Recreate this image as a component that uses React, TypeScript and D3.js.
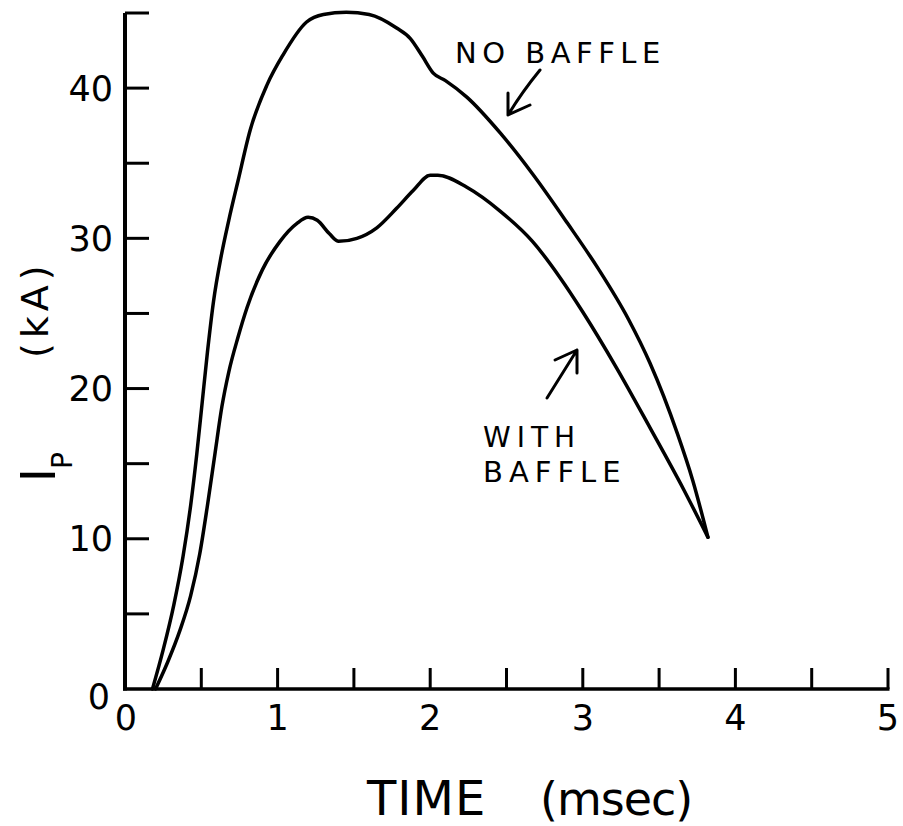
import React from "react";
import * as d3 from "d3";

// ---- data ----
const noBaffleTime = [0.18, 0.25, 0.32, 0.38, 0.43, 0.47, 0.505, 0.54, 0.58, 0.63, 0.68, 0.74, 0.82, 0.93, 1.035, 1.19, 1.3, 1.45, 1.6, 1.78, 1.87, 1.95, 2.02, 2.1, 2.24, 2.46, 2.67, 2.9, 3.1, 3.3, 3.44, 3.62, 3.72, 3.82];
const noBaffleCurrent = [0, 2.6, 5.6, 8.8, 12.2, 15.6, 19.0, 22.4, 25.8, 28.8, 31.2, 33.8, 37.2, 40.2, 42.2, 44.4, 44.9, 45.05, 44.9, 44.0, 43.3, 42.1, 41.0, 40.5, 39.4, 37.0, 34.3, 31.0, 28.0, 24.6, 21.7, 17.0, 13.9, 10.1];

const withBaffleTime = [0.2, 0.28, 0.36, 0.43, 0.49, 0.54, 0.59, 0.635, 0.68, 0.74, 0.8, 0.9, 1.016, 1.127, 1.2, 1.26, 1.34, 1.4, 1.52, 1.65, 1.78, 1.89, 2.0, 2.05, 2.24, 2.46, 2.67, 2.85, 3.0, 3.22, 3.44, 3.66, 3.82];
const withBaffleCurrent = [0, 1.8, 3.9, 6.2, 9.0, 12.2, 15.7, 18.8, 21.1, 23.4, 25.4, 27.9, 29.8, 31.0, 31.4, 31.2, 30.3, 29.8, 30.0, 30.7, 32.0, 33.2, 34.2, 34.2, 33.4, 31.8, 29.8, 27.4, 25.1, 21.4, 17.4, 13.3, 10.1];

const xMajorTicks = [0, 1, 2, 3, 4, 5];
const xMinorTicks = [0.5, 1, 1.5, 2, 2.5, 3, 3.5, 4, 4.5, 5];
const yMajorTicks = [0, 10, 20, 30, 40];
const yMinorTicks = [5, 10, 15, 20, 25, 30, 35, 40, 45];

const xTitle = "TIME";
const xUnit = "(msec)";
const yTitleMain = "I";
const yTitleSub = "P";
const yUnit = "(kA)";
const labelNoBaffle = "NO BAFFLE";
const labelWith1 = "WITH";
const labelWith2 = "BAFFLE";

const FONT = "'DejaVu Sans', sans-serif";

export default function App() {
  const W = 903;
  const H = 826;
  const x = d3.scaleLinear().domain([0, 5]).range([125, 888]);
  const y = d3.scaleLinear().domain([0, 45]).range([689, 13]);

  const line = d3
    .line<[number, number]>()
    .x((d) => x(d[0]))
    .y((d) => y(d[1]))
    .curve(d3.curveMonotoneX);

  const noB = noBaffleTime.map((t, i) => [t, noBaffleCurrent[i]] as [number, number]);
  const withB = withBaffleTime.map((t, i) => [t, withBaffleCurrent[i]] as [number, number]);

  const stroke = "#000";

  return (
    <svg
      width={W}
      height={H}
      viewBox={`0 0 ${W} ${H}`}
      style={{ position: "absolute", left: 0, top: 0, background: "#fff" }}
    >
      <rect x={0} y={0} width={W} height={H} fill="#fff" />
      {/* axes */}
      <line x1={x(0)} x2={x(0)} y1={y(0) + 1.5} y2={y(45)} stroke={stroke} strokeWidth={4} />
      <line x1={x(0) - 2} x2={x(5) + 1.5} y1={y(0)} y2={y(0)} stroke={stroke} strokeWidth={3.5} />
      {yMinorTicks.map((v) => (
        <line key={"yt" + v} x1={x(0)} x2={x(0) + 24} y1={y(v)} y2={y(v)} stroke={stroke} strokeWidth={3} />
      ))}
      {xMinorTicks.map((v) => (
        <line key={"xt" + v} x1={x(v)} x2={x(v)} y1={y(0)} y2={y(0) - 21} stroke={stroke} strokeWidth={3} />
      ))}
      {/* y tick labels */}
      {yMajorTicks.map((v) => (
        <text
          key={"yl" + v}
          x={v === 0 ? 110 : 113}
          y={v === 0 ? y(v) + 7 : y(v)}
          dy="0.36em"
          textAnchor="end"
          fontFamily={FONT}
          fontSize={35}
          fill={stroke}
        >
          {v}
        </text>
      ))}
      {/* x tick labels */}
      {xMajorTicks.map((v) => (
        <text
          key={"xl" + v}
          x={v === 0 ? x(v) + 1 : x(v)}
          y={730}
          textAnchor="middle"
          fontFamily={FONT}
          fontSize={35}
          fill={stroke}
        >
          {v}
        </text>
      ))}
      {/* x title */}
      <text x={367} y={815} fontFamily={FONT} fontSize={48} fill={stroke} letterSpacing={1}>
        {xTitle}
      </text>
      <text x={540} y={815} fontFamily={FONT} fontSize={46} fill={stroke} letterSpacing={-1}>
        {xUnit}
      </text>
      {/* y title */}
      <text transform="translate(48,358) rotate(-90)" fontFamily={FONT} fontSize={38} fill={stroke} letterSpacing={5}>
        {yUnit}
      </text>
      <text transform="translate(55,482) rotate(-90)" fontFamily="'Liberation Sans', sans-serif" fontSize={50} fill={stroke}>
        {yTitleMain}
      </text>
      <text transform="translate(72,469) rotate(-90)" fontFamily={FONT} fontSize={28} fill={stroke}>
        {yTitleSub}
      </text>
      {/* curves */}
      <path d={line(noB) || ""} fill="none" stroke={stroke} strokeWidth={3.5} strokeLinejoin="round" strokeLinecap="round" />
      <path d={line(withB) || ""} fill="none" stroke={stroke} strokeWidth={3.5} strokeLinejoin="round" strokeLinecap="round" />
      {/* annotations */}
      <text x={455} y={63} fontFamily={FONT} fontSize={29} fill={stroke} letterSpacing={5.5}>
        {labelNoBaffle}
      </text>
      <path d="M540,70 Q522,92 508,115 M508,93 L508,115 L530,105" fill="none" stroke={stroke} strokeWidth={3} strokeLinecap="round" strokeLinejoin="round" />
      <text x={483} y={447} fontFamily={FONT} fontSize={28} fill={stroke} letterSpacing={6}>
        {labelWith1}
      </text>
      <text x={483} y={482} fontFamily={FONT} fontSize={29} fill={stroke} letterSpacing={6}>
        {labelWith2}
      </text>
      <path d="M547,398 L577,350 M555,360 L577,350 L577,373" fill="none" stroke={stroke} strokeWidth={3} strokeLinecap="round" strokeLinejoin="round" />
    </svg>
  );
}
